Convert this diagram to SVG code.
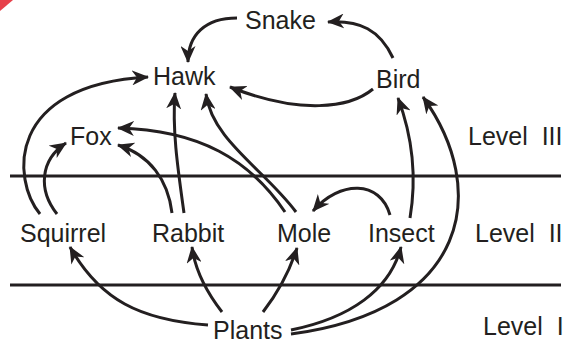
<svg xmlns="http://www.w3.org/2000/svg" width="566" height="345" viewBox="0 0 566 345">
<style>
.t{font-family:"Liberation Sans",Arial,sans-serif;font-size:25px;fill:#231f20}
.c{fill:none;stroke:#231f20;stroke-width:3;marker-end:url(#ah)}
.lvl{stroke:#231f20;stroke-width:3}
</style>
<defs>
<marker id="ah" viewBox="0 0 17 15" markerWidth="17" markerHeight="15" refX="16" refY="7.5" orient="auto" markerUnits="userSpaceOnUse">
<path d="M0,0 L17,7.5 L0,15 L5,7.5 z" fill="#231f20"/>
</marker>
</defs>
<rect width="566" height="345" fill="#fff"/>
<polygon points="0,0 13,0 0,11" fill="#e3202b" opacity="0.85"/>
<g id="levels">
<line class="lvl" x1="10" y1="176" x2="561" y2="176"/>
<line class="lvl" x1="10" y1="285" x2="561" y2="285"/>
</g>
<g id="connectors">
<path class="c" d="M393,58 C380,30 360,20 328,22"/>
<path class="c" d="M237,18 C205,18 188,35 188,62"/>
<path class="c" d="M373,89 C350,108 300,115 230,87"/>
<path class="c" d="M40,214 C12,180 5,85 148,77"/>
<path class="c" d="M57,214 C38,190 40,160 66,143"/>
<path class="c" d="M172,213 C168,180 150,155 118,145"/>
<path class="c" d="M184,213 C178,170 172,130 175,93"/>
<path class="c" d="M285,212 C250,160 200,130 118,128"/>
<path class="c" d="M296,212 C265,170 212,140 206,94"/>
<path class="c" d="M390,215 C380,180 340,180 313,211"/>
<path class="c" d="M410,218 C418,170 410,130 398,98"/>
<path class="c" d="M291,334 C470,310 490,190 423,97"/>
<path class="c" d="M291,330 C350,318 390,290 401,247"/>
<path class="c" d="M263,312 C280,290 290,270 297,248"/>
<path class="c" d="M222,312 C205,290 195,270 192,247"/>
<path class="c" d="M208,325 C140,320 100,300 70,247"/>
</g>
<g id="snake"><text class="t" x="245" y="29">Snake</text></g>
<g id="hawk"><text class="t" x="153" y="85">Hawk</text></g>
<g id="bird"><text class="t" x="376" y="88">Bird</text></g>
<g id="fox"><text class="t" x="70" y="145">Fox</text></g>
<g id="squirrel"><text class="t" x="20" y="242">Squirrel</text></g>
<g id="rabbit"><text class="t" x="152" y="242">Rabbit</text></g>
<g id="mole"><text class="t" x="277" y="242">Mole</text></g>
<g id="insect"><text class="t" x="368" y="242">Insect</text></g>
<g id="plants"><text class="t" x="213" y="339">Plants</text></g>
<g id="level3"><text class="t" x="468" y="145" xml:space="preserve">Level  III</text></g>
<g id="level2"><text class="t" x="475" y="242" xml:space="preserve">Level  II</text></g>
<g id="level1"><text class="t" x="483" y="335" xml:space="preserve">Level  I</text></g>
</svg>
